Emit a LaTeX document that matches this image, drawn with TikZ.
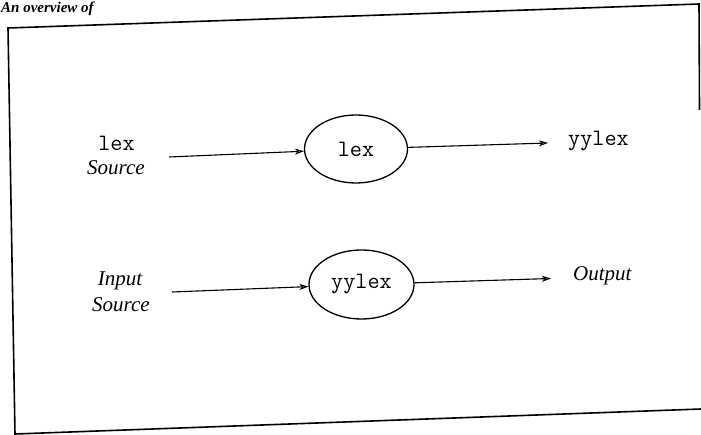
\documentclass[tikz,border=0pt]{standalone}
\usepackage{fontspec}
\setmainfont{Liberation Serif}
\usetikzlibrary{shapes.geometric,arrows.meta}
\tikzset{
  frame/.style={line width=1.6pt, line join=miter},
  proc/.style={draw, ellipse, line width=1.3pt, inner sep=0pt, font=\fontsize{23.5}{26}\selectfont\ttfamily},
  code/.style={inner sep=0pt, anchor=base, font=\fontsize{23.5}{26}\selectfont\ttfamily},
  lbl/.style={inner sep=0pt, anchor=base, font=\fontsize{21}{24}\selectfont\itshape},
  flow/.style={line width=1.1pt, -{Stealth[open,length=9pt,width=6pt,inset=2.5pt]}},
}
\begin{document}
\begin{tikzpicture}[x=1pt,y=-1pt]
\useasboundingbox (0,0) rectangle (701,435);
% caption at the top
\node[inner sep=0pt, anchor=base west, font=\fontsize{15}{18}\selectfont\bfseries\itshape] (cap) at (1,13) {An overview of};
% frame (scan is slightly skewed)
\draw[frame] (701,409) -- (15,434) -- (8,28) -- (699,4) -- (699.5,110);
% processes
\node[proc, minimum width=103pt, minimum height=68pt] (lexp) at (356,149) {lex};
\node[proc, minimum width=105pt, minimum height=69pt] (yyp) at (361.5,284.5) {yylex};
% labels
\node[code] (lexsrc) at (116.5,151) {lex};
\node[lbl] (src1) at (116,175) {Source};
\node[lbl] (inp) at (120,286) {Input};
\node[lbl] (src2) at (121,312) {Source};
\node[code, anchor=base west] (yyout) at (568,146) {yylex};
\node[lbl, anchor=base west] (outp) at (573,281) {Output};
% connector ends
\coordinate (a1) at (169,157);
\coordinate (b1) at (548,143);
\coordinate (a2) at (172,292);
\coordinate (b2) at (551,278.5);
\draw[flow] (a1) -- (lexp);
\draw[flow] (lexp) -- (b1);
\draw[flow] (a2) -- (yyp);
\draw[flow] (yyp) -- (b2);
\end{tikzpicture}
\end{document}
